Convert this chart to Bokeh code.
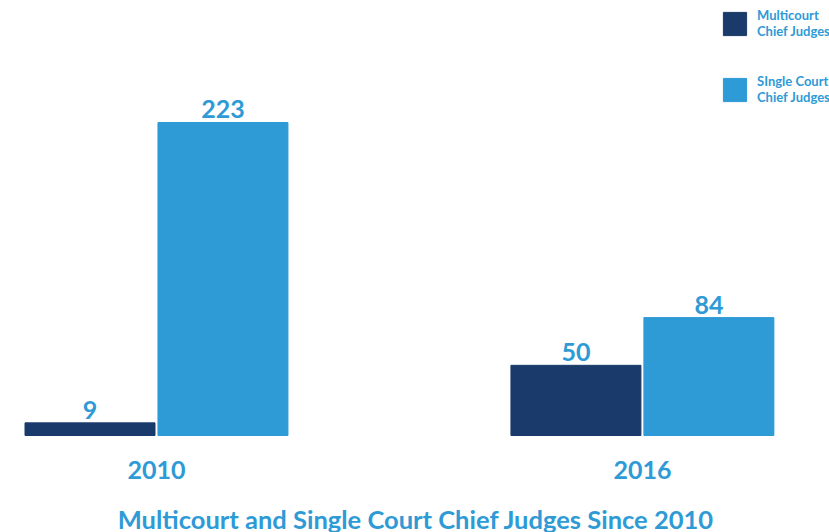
from bokeh.plotting import figure
from bokeh.models import ColumnDataSource, Range1d, Label, Legend, LegendItem
from bokeh.core.properties import value
from bokeh.embed import file_html
from bokeh.resources import INLINE

years = ["2010", "2016"]
multicourt = [9, 50]
single_court = [223, 84]
series_names = ["Multicourt\nChief Judges", "SIngle Court\nChief Judges"]
title_text = "Multicourt and Single Court Chief Judges Since 2010"

DARK = "#193A6B"
LIGHT = "#2E9AD6"
FONT = "Lato"

W, H = 829, 532
p = figure(width=W, height=H, output_backend="svg", toolbar_location=None,
           min_border=0, outline_line_color=None,
           x_range=Range1d(-0.321, 1.385), y_range=Range1d(-69.1, 309.9))
p.axis.visible = False
p.grid.visible = False
p.background_fill_color = "white"
p.border_fill_color = "white"

idx = list(range(len(years)))
bw = 0.2675
off = 0.1368
src_m = ColumnDataSource(dict(x=[i - off for i in idx], top=multicourt, lab=[str(v) for v in multicourt]))
src_s = ColumnDataSource(dict(x=[i + off for i in idx], top=single_court, lab=[str(v) for v in single_court]))
r1 = p.vbar(x="x", top="top", width=bw, bottom=0, color=DARK, source=src_m)
r2 = p.vbar(x="x", top="top", width=bw, bottom=0, color=LIGHT, source=src_s)

for src in (src_m, src_s):
    p.text(x="x", y="top", text="lab", source=src, text_align="center", text_baseline="bottom",
           y_offset=-4, text_font=value(FONT), text_font_style="bold", text_font_size="25px",
           text_color=LIGHT)

src_c = ColumnDataSource(dict(x=idx, y=[0] * len(idx), lab=years))
p.text(x="x", y="y", text="lab", source=src_c, text_align="center", text_baseline="middle",
       y_offset=34, text_font=value(FONT), text_font_style="bold", text_font_size="25px",
       text_color=LIGHT)

p.add_layout(Label(x=W / 2 + 1, y=14, x_units="screen", y_units="screen", text=title_text,
                   text_align="center", text_baseline="middle", text_font=FONT,
                   text_font_style="bold", text_font_size="25.5px", text_color=LIGHT))

legend = Legend(items=[LegendItem(label=series_names[0], renderers=[r1]),
                       LegendItem(label=series_names[1], renderers=[r2])],
                location=(720, 427), orientation="vertical",
                glyph_width=29, glyph_height=29, label_text_font=FONT,
                label_text_font_style="bold", label_text_font_size="13px",
                label_text_color=LIGHT, label_text_line_height=1.1,
                spacing=34, padding=8, border_line_color=None,
                background_fill_alpha=0, label_standoff=8)
p.add_layout(legend, "center")

open("out.html", "w").write(file_html(p, INLINE))
